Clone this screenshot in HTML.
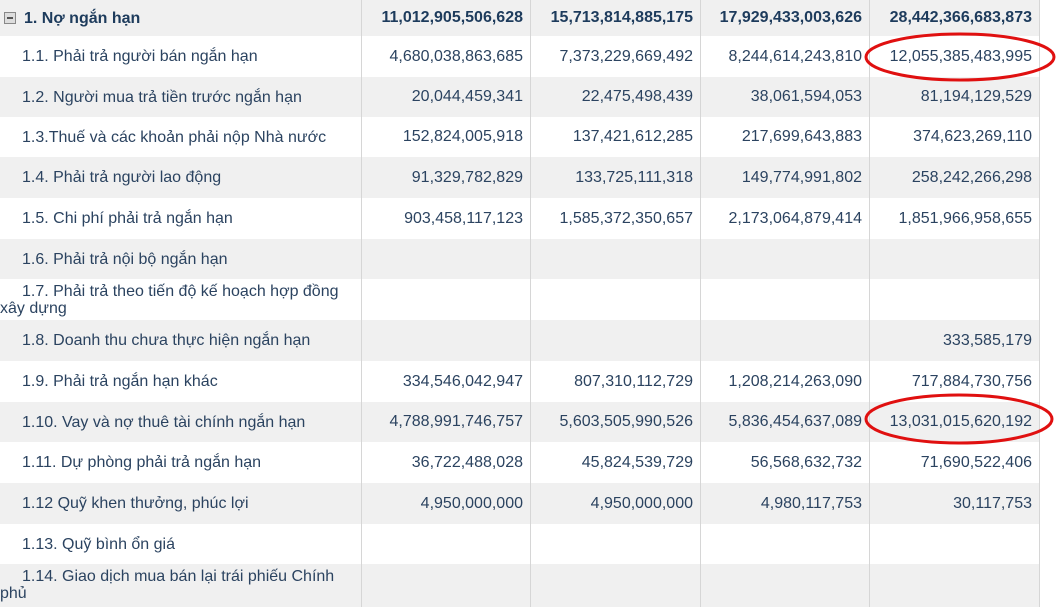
<!DOCTYPE html>
<html><head><meta charset="utf-8"><style>
body{margin:0;width:1057px;height:612px;background:#fff;position:relative;overflow:hidden;font-family:"Liberation Sans",Arial,sans-serif;font-size:16px;color:#2b4360}
.r{position:absolute;left:0;width:1039px}
.g{background:#f0f0f0}
.c{position:absolute;top:0;height:100%;display:flex;align-items:center}
.l{left:0;width:355px;padding-left:22px;box-sizing:border-box;line-height:17px}
.v{justify-content:flex-end;padding-right:7px;box-sizing:border-box}
.v1{left:362px;width:168px}.v2{left:531px;width:169px}.v3{left:701px;width:168px}.v4{left:870px;width:169px}
.b{font-weight:bold;color:#1d3b5c;font-size:16px}
.vl{position:absolute;top:0;width:1px;height:607px;background:#d6d6d6}
</style></head><body>
<div class="r g" style="top:0;height:36px"><div class="c l b" style="padding-left:4px"><span style="display:inline-block;width:10px;height:10px;border:1px solid #888;background:#ddd;margin-right:8px;position:relative"><span style="position:absolute;left:2px;top:4px;width:6px;height:2px;background:#555"></span></span>1. Nợ ngắn hạn</div><div class="c v v1 b">11,012,905,506,628</div><div class="c v v2 b">15,713,814,885,175</div><div class="c v v3 b">17,929,433,003,626</div><div class="c v v4 b">28,442,366,683,873</div></div>
<div class="r" style="top:36px;height:41px"><div class="c l">1.1. Phải trả người bán ngắn hạn</div><div class="c v v1">4,680,038,863,685</div><div class="c v v2">7,373,229,669,492</div><div class="c v v3">8,244,614,243,810</div><div class="c v v4">12,055,385,483,995</div></div>
<div class="r g" style="top:77px;height:40px"><div class="c l">1.2. Người mua trả tiền trước ngắn hạn</div><div class="c v v1">20,044,459,341</div><div class="c v v2">22,475,498,439</div><div class="c v v3">38,061,594,053</div><div class="c v v4">81,194,129,529</div></div>
<div class="r" style="top:117px;height:40px"><div class="c l">1.3.Thuế và các khoản phải nộp Nhà nước</div><div class="c v v1">152,824,005,918</div><div class="c v v2">137,421,612,285</div><div class="c v v3">217,699,643,883</div><div class="c v v4">374,623,269,110</div></div>
<div class="r g" style="top:157px;height:41px"><div class="c l">1.4. Phải trả người lao động</div><div class="c v v1">91,329,782,829</div><div class="c v v2">133,725,111,318</div><div class="c v v3">149,774,991,802</div><div class="c v v4">258,242,266,298</div></div>
<div class="r" style="top:198px;height:41px"><div class="c l">1.5. Chi phí phải trả ngắn hạn</div><div class="c v v1">903,458,117,123</div><div class="c v v2">1,585,372,350,657</div><div class="c v v3">2,173,064,879,414</div><div class="c v v4">1,851,966,958,655</div></div>
<div class="r g" style="top:239px;height:40px"><div class="c l">1.6. Phải trả nội bộ ngắn hạn</div></div>
<div class="r" style="top:279px;height:41px"><div class="c l" style="padding-left:0;display:block;padding-top:4px;text-indent:22px;width:350px">1.7. Phải trả theo tiến độ kế hoạch hợp đồng xây dựng</div></div>
<div class="r g" style="top:320px;height:41px"><div class="c l">1.8. Doanh thu chưa thực hiện ngắn hạn</div><div class="c v v4">333,585,179</div></div>
<div class="r" style="top:361px;height:41px"><div class="c l">1.9. Phải trả ngắn hạn khác</div><div class="c v v1">334,546,042,947</div><div class="c v v2">807,310,112,729</div><div class="c v v3">1,208,214,263,090</div><div class="c v v4">717,884,730,756</div></div>
<div class="r g" style="top:402px;height:40px"><div class="c l">1.10. Vay và nợ thuê tài chính ngắn hạn</div><div class="c v v1">4,788,991,746,757</div><div class="c v v2">5,603,505,990,526</div><div class="c v v3">5,836,454,637,089</div><div class="c v v4">13,031,015,620,192</div></div>
<div class="r" style="top:442px;height:41px"><div class="c l">1.11. Dự phòng phải trả ngắn hạn</div><div class="c v v1">36,722,488,028</div><div class="c v v2">45,824,539,729</div><div class="c v v3">56,568,632,732</div><div class="c v v4">71,690,522,406</div></div>
<div class="r g" style="top:483px;height:41px"><div class="c l">1.12 Quỹ khen thưởng, phúc lợi</div><div class="c v v1">4,950,000,000</div><div class="c v v2">4,950,000,000</div><div class="c v v3">4,980,117,753</div><div class="c v v4">30,117,753</div></div>
<div class="r" style="top:524px;height:40px"><div class="c l">1.13. Quỹ bình ổn giá</div></div>
<div class="r g" style="top:564px;height:43px"><div class="c l" style="padding-left:0;display:block;padding-top:4px;text-indent:22px;width:350px">1.14. Giao dịch mua bán lại trái phiếu Chính phủ</div></div>
<div class="vl" style="left:361px"></div><div class="vl" style="left:530px"></div><div class="vl" style="left:700px"></div><div class="vl" style="left:869px"></div><div class="vl" style="left:1039px"></div>
<svg width="1057" height="612" style="position:absolute;left:0;top:0">
<ellipse cx="960" cy="57" rx="94" ry="23" fill="none" stroke="#e01010" stroke-width="3"/>
<ellipse cx="959" cy="419" rx="93" ry="24" fill="none" stroke="#e01010" stroke-width="3"/>
</svg>
</body></html>
